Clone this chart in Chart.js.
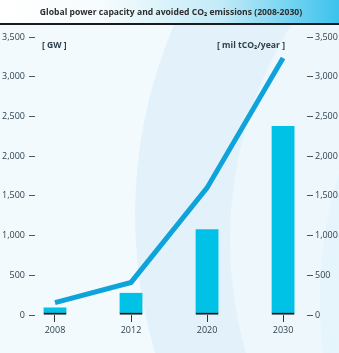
<!DOCTYPE html>
<html>
<head>
<meta charset="utf-8">
<style>
  html, body { margin: 0; padding: 0; background: #ffffff; }
  canvas { display: block; }
</style>
<script src="https://cdn.jsdelivr.net/npm/chart.js@4.4.1/dist/chart.umd.min.js"></script>
</head>
<body>
<canvas id="chart" width="339" height="353"></canvas>
<script>
// Years shown on the horizontal axis
const years = ['2008', '2012', '2020', '2030'];
// Installed global power capacity, GW (bars)
const capacityGW = [95, 280, 1080, 2380];
// Avoided CO2 emissions, million tonnes per year (line)
const avoidedCO2 = [155, 410, 1600, 3235];
// Shared value ticks for both vertical axes
const valueTicks = [0, 500, 1000, 1500, 2000, 2500, 3000, 3500];

const titleText = 'Global power capacity and avoided CO\u2082 emissions (2008-2030)';
const leftUnit = '[ GW ]';
const rightUnit = '[ mil tCO\u2082/year ]';

const inkColor = '#2c3f4c';
const fontFamily = '"Open Sans", "Noto Sans", sans-serif';

const barPoints = capacityGW.map((v, i) => ({ x: i, y: v }));
const linePoints = avoidedCO2.map((v, i) => ({ x: i, y: v }));

// Soft blue backdrop with sweeping arcs, plus the header band
const backdrop = {
  id: 'backdrop',
  beforeDraw(chart) {
    const { ctx, width, height } = chart;
    ctx.save();
    ctx.fillStyle = '#f3fafd';
    ctx.fillRect(0, 0, width, height);
    ctx.beginPath();
    ctx.arc(620, 215, 485, 0, Math.PI * 2);
    ctx.fillStyle = '#e3f2fa';
    ctx.fill();
    ctx.beginPath();
    ctx.arc(640, 240, 410, 0, Math.PI * 2);
    ctx.fillStyle = '#edf7fc';
    ctx.fill();
    ctx.beginPath();
    ctx.arc(760, 300, 440, 0, Math.PI * 2);
    ctx.fillStyle = '#e6f4fb';
    ctx.fill();

    // header band
    const g = ctx.createLinearGradient(0, 0, width, 0);
    g.addColorStop(0, '#ffffff');
    g.addColorStop(0.3, '#f6fcfe');
    g.addColorStop(0.65, '#c2ebf8');
    g.addColorStop(1, '#3cc2ec');
    ctx.fillStyle = g;
    ctx.fillRect(0, 0, width, 23);
    ctx.fillStyle = '#1b1b1b';
    ctx.fillRect(0, 23, width, 2);
    ctx.restore();
  },
  afterDraw(chart) {
    const { ctx } = chart;
    ctx.save();
    ctx.fillStyle = '#2e2e2e';
    ctx.font = 'bold 8.6px ' + fontFamily;
    ctx.textAlign = 'center';
    ctx.textBaseline = 'middle';
    ctx.fillText(titleText, 171, 12.5);

    ctx.fillStyle = inkColor;
    ctx.font = 'bold 8.6px ' + fontFamily;
    ctx.textAlign = 'left';
    ctx.fillText(leftUnit, 42, 45.5);
    ctx.textAlign = 'right';
    ctx.fillText(rightUnit, 285, 45.5);
    ctx.restore();
  }
};

const valueAxis = (position, tickLen, pad, width) => ({
  type: 'linear',
  position,
  min: 0,
  max: 3500,
  afterBuildTicks(scale) { scale.ticks = valueTicks.map(v => ({ value: v })); },
  afterFit(scale) { scale.width = width; },
  border: { display: false },
  grid: {
    drawOnChartArea: false,
    drawTicks: true,
    tickLength: tickLen,
    color: '#555555',
    lineWidth: 1
  },
  ticks: {
    padding: pad,
    color: inkColor,
    font: { family: fontFamily, size: 9 },
    callback: v => v.toLocaleString('en-US')
  }
});

new Chart(document.getElementById('chart'), {
  data: {
    datasets: [
      {
        type: 'line',
        label: 'Avoided CO2 emissions',
        data: linePoints,
        yAxisID: 'yR',
        borderColor: '#0ea3da',
        borderWidth: 5,
        borderCapStyle: 'butt',
        borderJoinStyle: 'miter',
        pointRadius: 0,
        tension: 0,
        order: 0
      },
      {
        type: 'bar',
        label: 'Power capacity',
        data: barPoints,
        yAxisID: 'yL',
        backgroundColor: '#00c2e6',
        borderColor: '#1a1a1a',
        borderWidth: { top: 0, left: 0, right: 0, bottom: 2 },
        borderSkipped: false,
        barThickness: 23,
        order: 1
      }
    ]
  },
  options: {
    responsive: false,
    devicePixelRatio: 1,
    animation: false,
    layout: { padding: { top: 37, left: 0, right: 0, bottom: 0 } },
    plugins: {
      legend: { display: false },
      tooltip: { enabled: false },
      title: { display: false }
    },
    scales: {
      x: {
        type: 'linear',
        position: 'bottom',
        offset: false,
        min: -0.263,
        max: 3.315,
        afterBuildTicks(scale) { scale.ticks = years.map((_, i) => ({ value: i })); },
        afterFit(scale) { scale.height = 38; },
        border: { display: false },
        grid: {
          offset: false,
          drawOnChartArea: false,
          drawTicks: true,
          tickLength: 7,
          color: '#333333',
          lineWidth: 1
        },
        ticks: {
          padding: 3,
          color: inkColor,
          font: { family: fontFamily, size: 9 },
          maxRotation: 0,
          callback: v => years[v]
        }
      },
      yL: valueAxis('left', 6, 4, 35),
      yR: valueAxis('right', 6, 2, 32)
    }
  },
  plugins: [backdrop]
});
</script>
</body>
</html>
